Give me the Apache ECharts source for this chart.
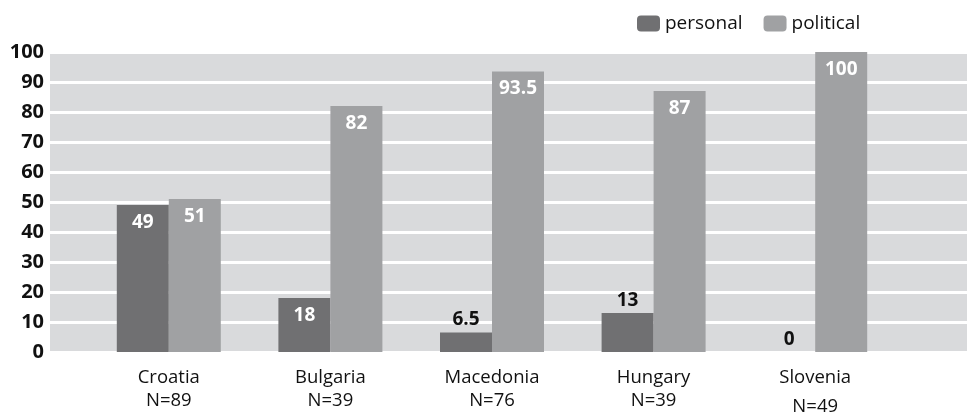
<!DOCTYPE html>
<html>
<head>
<meta charset="utf-8">
<script src="https://cdn.jsdelivr.net/npm/echarts@6/dist/echarts.min.js"></script>
<style>
html,body{margin:0;padding:0;background:#fff;}
#chart{width:967px;height:414px;}
</style>
</head>
<body>
<div id="chart"></div>
<script>
// Country categories with sample sizes
const countries = ['Croatia', 'Bulgaria', 'Macedonia', 'Hungary', 'Slovenia'];
const sampleSizes = ['N=89', 'N=39', 'N=76', 'N=39', 'N=49'];
// Shares (%) per motive
const personal = [49, 18, 6.5, 13, 0];
const political = [51, 82, 93.5, 87, 100];
const yTicks = [0, 10, 20, 30, 40, 50, 60, 70, 80, 90, 100];

const FONT = '"Open Sans", "Liberation Sans", sans-serif';
const DARK = '#707072';
const LIGHT = '#a0a1a3';

// Values small enough that the label sits above the bar in black
function labelFor(v) {
  const outside = v < 15;
  return {
    value: v,
    label: outside
      ? { position: 'top', color: '#111', distance: 3 }
      : { position: 'insideTop', color: '#fff', distance: 8 }
  };
}

const chart = echarts.init(document.getElementById('chart'), null, { renderer: 'canvas' });

chart.setOption({
  animation: false,
  textStyle: { fontFamily: FONT },
  legend: {
    top: 9,
    left: 632,
    itemWidth: 23,
    itemHeight: 16,
    itemGap: 21,
    textStyle: { fontSize: 19, color: '#111', fontFamily: FONT },
    data: ['personal', 'political']
  },
  grid: [
    // grey backdrop with white gridlines spanning the full width
    { left: 50, right: 0, top: 52, bottom: 62, show: true, backgroundColor: '#d9dadc', borderWidth: 0, outerBoundsMode: 'none', containLabel: false },
    // bar area
    { left: 88, width: 808, top: 52, bottom: 62, outerBoundsMode: 'none', containLabel: false }
  ],
  xAxis: [
    { gridIndex: 0, type: 'value', show: false, min: 0, max: 1 },
    {
      gridIndex: 1,
      type: 'category',
      data: countries.map((c, i) => c + '|' + sampleSizes[i] + '|' + i),
      axisLine: { show: false },
      axisTick: { show: false },
      axisLabel: {
        margin: 14,
        formatter: v => {
          const p = v.split('|');
          return '{a|' + p[0] + '}\n' + (p[2] === '4' ? '{c|' : '{b|') + p[1] + '}';
        },
        rich: {
          a: { fontSize: 18.5, color: '#111', lineHeight: 23, fontFamily: FONT },
          b: { fontSize: 18.5, color: '#111', lineHeight: 23, fontFamily: FONT },
          c: { fontSize: 18.5, color: '#111', lineHeight: 27, fontFamily: FONT, verticalAlign: 'bottom' }
        }
      }
    }
  ],
  yAxis: [
    {
      gridIndex: 0,
      type: 'value',
      min: 0, max: 100, interval: 10,
      axisLine: { show: false },
      axisTick: { show: false },
      splitLine: { show: true, lineStyle: { color: '#ffffff', width: 3 } },
      axisLabel: {
        fontSize: 20, fontWeight: 'bold', color: '#111', margin: 6, fontFamily: FONT,
        formatter: v => yTicks.includes(v) ? String(v) : ''
      }
    },
    {
      gridIndex: 1,
      type: 'value',
      min: 0, max: 100, interval: 10,
      show: false,
      splitLine: { show: false }
    }
  ],
  series: [
    {
      name: 'personal',
      type: 'bar',
      xAxisIndex: 1, yAxisIndex: 1,
      barWidth: 52,
      barGap: '0%',
      itemStyle: { color: DARK },
      label: { show: true, fontSize: 19, fontWeight: 'bold', fontFamily: FONT },
      data: personal.map(labelFor)
    },
    {
      name: 'political',
      type: 'bar',
      xAxisIndex: 1, yAxisIndex: 1,
      barWidth: 52,
      barGap: '0%',
      itemStyle: { color: LIGHT },
      label: { show: true, fontSize: 19, fontWeight: 'bold', fontFamily: FONT },
      data: political.map(labelFor)
    }
  ]
});
</script>
</body>
</html>
